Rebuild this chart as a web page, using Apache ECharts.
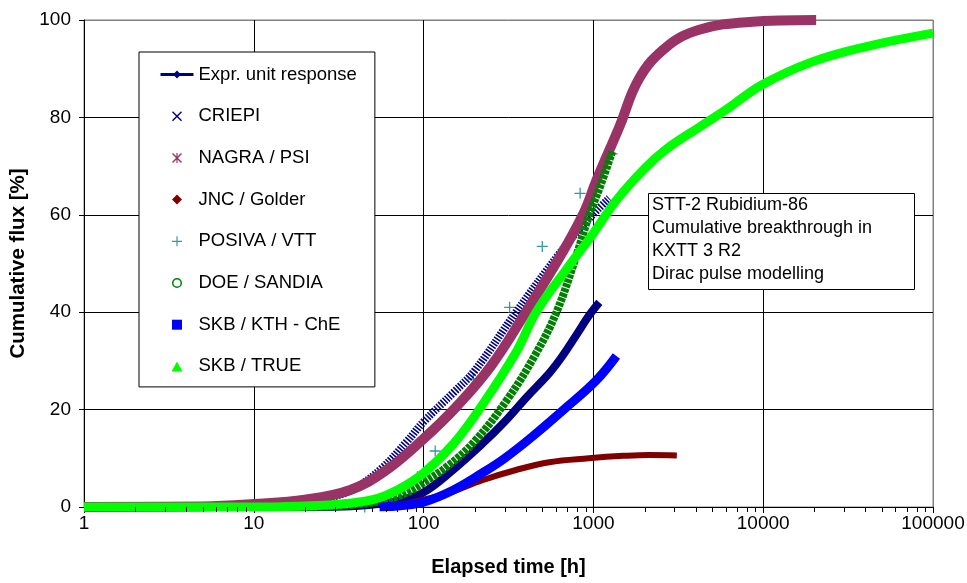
<!DOCTYPE html>
<html><head><meta charset="utf-8">
<script src="https://cdn.jsdelivr.net/npm/echarts@6/dist/echarts.min.js"></script>
<style>html,body{margin:0;padding:0;background:#fff}#c{width:967px;height:583px}</style>
</head><body><div id="c"></div>
<script>
const FONT = '"Liberation Sans", Arial, sans-serif';

// ---- data (time [h], cumulative flux [%]) ----
const xTickLabels = ['1', '10', '100', '1000', '10000', '100000'];
const yTicks = [0, 20, 40, 60, 80, 100];

const exprT = [1, 20, 40, 60, 80, 100, 142, 222, 300, 403, 550, 657, 800, 950, 1084];
const exprV = [0, 0, 0.2, 0.8, 1.8, 3, 7, 13, 17.5, 22.5, 27.5, 31, 35.5, 39.5, 42];

const criepiT = [1, 10, 20, 30, 40, 57, 80, 100, 150, 200, 350, 630, 900, 1240];
const criepiV = [0, 0.1, 0.9, 2.2, 4, 8, 13.5, 17.5, 23.5, 28, 40, 52, 58.5, 63.4];

const nagraT = [1, 5, 10, 20, 37, 60, 100, 160, 250, 400, 650, 880, 1040, 1420, 1860, 2700, 4200, 8300, 20500];
const nagraV = [0, 0.1, 0.6, 1.5, 3.5, 7.5, 14, 21, 29, 40, 52, 60.5, 67, 78, 88, 94.5, 98, 99.6, 100];

const jncT = [57, 80, 100, 142, 222, 350, 550, 940, 1500, 2140, 3100];
const jncV = [0, 0.8, 1.5, 2.9, 5.5, 7.6, 9.2, 10, 10.5, 10.7, 10.6];

const posivaT = [45, 60, 92, 117, 196, 321, 500, 835, 1290];
const posivaV = [0, 0.8, 6.2, 11.5, 26.3, 41, 53.5, 64.4, 72.5];

const doeT = [1, 20, 40, 60, 80, 100, 140, 200, 310, 450, 606, 800, 945, 1100, 1290];
const doeV = [0, 0, 0.5, 1.5, 3, 5, 8.5, 13.5, 22, 31, 40, 52, 60, 66, 73];

const kthT = [55, 75, 100, 150, 222, 300, 435, 695, 1040, 1366];
const kthV = [0, 0.3, 1, 3.5, 7, 10, 14.4, 20.5, 26, 31];

const trueT = [1, 10, 20, 30, 50, 70, 100, 150, 222, 353, 460, 700, 990, 1366, 2000, 2690, 4200, 6000, 9860, 19400, 40000, 100000];
const trueV = [0, 0, 0.2, 0.5, 1.5, 3.5, 7, 13, 21, 32, 40, 49, 56, 63, 69.5, 73.5, 78, 81.5, 86.7, 91.4, 94.5, 97.3];

const minorTickValues = [];
for (let d = 1; d < 100000; d *= 10) for (let k = 2; k <= 9; k++) minorTickValues.push([k * d, 0]);

const zip = (t, v) => t.map((x, i) => [x, v[i]]);

const xPath = 'path://M0,1.2 L1.2,0 L6,4.8 L10.8,0 L12,1.2 L7.2,6 L12,10.8 L10.8,12 L6,7.2 L1.2,12 L0,10.8 L4.8,6 Z';
const starPath = 'path://M0,1.2 L1.2,0 L6,4.8 L10.8,0 L12,1.2 L7.2,6 L12,10.8 L10.8,12 L6,7.2 L1.2,12 L0,10.8 L4.8,6 Z M5.3,0 L6.7,0 L6.7,12 L5.3,12 Z';
const plusPath = 'path://M0,5.3 L12,5.3 L12,6.7 L0,6.7 Z M5.3,0 L6.7,0 L6.7,12 L5.3,12 Z';
const diamondPath = 'path://M6,0 L12,6 L6,12 L0,6 Z';
const squarePath = 'path://M0,0 L12,0 L12,12 L0,12 Z';
const trianglePath = 'path://M6,0 L12,11 L0,11 Z';
const ringPath = 'path://M6,0 A6,6 0 1 1 5.99,0 Z M6,1.8 A4.2,4.2 0 1 0 6.01,1.8 Z';

const lineSeries = (name, data, color, width, extra) => Object.assign({
  name, type: 'line', data, symbol: 'none', showSymbol: false,
  smooth: 0.4,
  itemStyle: { color },
  lineStyle: { color, width, cap: 'butt', join: 'round' },
  emphasis: { disabled: true }, animation: false, silent: true
}, extra || {});

const chart = echarts.init(document.getElementById('c'), null, { renderer: 'canvas' });
chart.setOption({
  backgroundColor: '#fff',
  animation: false,
  textStyle: { fontFamily: FONT },
  grid: { left: 84, right: 34, top: 20, bottom: 76, show: true, borderColor: '#808080', borderWidth: 1, outerBoundsMode: 'none', containLabel: false },
  xAxis: {
    type: 'log', logBase: 10, min: 1, max: 100000,
    name: 'Elapsed time [h]', nameLocation: 'middle', nameGap: 50,
    nameTextStyle: { fontFamily: FONT, fontSize: 20, fontWeight: 'bold', color: '#000' },
    axisLine: { show: true, lineStyle: { color: '#000', width: 1 } },
    axisTick: { show: true, inside: false, length: 6, lineStyle: { color: '#000' } },
    axisLabel: { fontFamily: FONT, fontSize: 19, color: '#000', margin: 7,
      formatter: v => xTickLabels[Math.round(Math.log10(v))] },
    splitLine: { show: true, lineStyle: { color: ['#000', '#000', '#000', '#000', '#000', '#808080'], width: 1 } },
    minorTick: { show: false }
  },
  yAxis: {
    type: 'value', min: 0, max: 100, interval: 20,
    name: 'Cumulative flux [%]', nameLocation: 'middle', nameGap: 50,
    nameTextStyle: { fontFamily: FONT, fontSize: 20.5, fontWeight: 'bold', color: '#000' },
    axisLine: { show: true, lineStyle: { color: '#000', width: 1 } },
    axisTick: { show: true, inside: false, length: 5, lineStyle: { color: '#000' } },
    axisLabel: { fontFamily: FONT, fontSize: 19, color: '#000', margin: 13,
      formatter: v => String(yTicks[yTicks.indexOf(v)] ?? v) },
    splitLine: { show: true, lineStyle: { color: ['#000', '#000', '#000', '#000', '#000', '#808080'], width: 1 } }
  },
  legend: {
    orient: 'vertical', left: 139, top: 52,
    backgroundColor: '#fff', borderColor: '#000', borderWidth: 1,
    padding: [13, 18, 11, 20],
    itemWidth: 33, itemHeight: 10, itemGap: 22.7,
    symbolKeepAspect: true,
    selectedMode: false,
    textStyle: { fontFamily: FONT, fontSize: 18.5, color: '#000', lineHeight: 18 },
    data: [
      { name: 'Expr. unit response', lineStyle: { width: 3 } },
      { name: 'CRIEPI', icon: xPath },
      { name: 'NAGRA / PSI', icon: starPath },
      { name: 'JNC / Golder', icon: diamondPath },
      { name: 'POSIVA / VTT', icon: plusPath },
      { name: 'DOE / SANDIA', icon: ringPath },
      { name: 'SKB / KTH - ChE', icon: squarePath },
      { name: 'SKB / TRUE', icon: trianglePath }
    ]
  },
  graphic: [{
    type: 'group', left: 648, top: 193, z: 50,
    children: [
      { type: 'rect', z: 50, shape: { x: 0.5, y: 0.5, width: 266, height: 96 }, style: { fill: '#fff', stroke: '#000', lineWidth: 1 } },
      { type: 'text', z: 51, x: 4, y: 1, style: { text: 'STT-2 Rubidium-86\nCumulative breakthrough in\nKXTT 3 R2\nDirac pulse modelling', font: '18px ' + FONT, lineHeight: 23, fill: '#000' } }
    ]
  }],
  series: [
    lineSeries('Expr. unit response', zip(exprT, exprV), '#000080', 8, { symbol: 'diamond' }),
    lineSeries('CRIEPI', zip(criepiT, criepiV), '#000080', 8, { lineStyle: { color: '#000080', width: 8, type: [1.6, 1.4], cap: 'butt' } }),
    lineSeries('NAGRA / PSI', zip(nagraT, nagraV), '#993366', 10),
    lineSeries('JNC / Golder', zip(jncT, jncV), '#800000', 6),
    { name: 'POSIVA / VTT', type: 'scatter', data: zip(posivaT, posivaV), symbol: plusPath, symbolSize: 11,
      itemStyle: { color: '#008080' }, animation: false, silent: true },
    lineSeries('DOE / SANDIA', zip(doeT, doeV), '#008000', 8, { lineStyle: { color: '#008000', width: 8, type: [4, 1], cap: 'butt' } }),
    lineSeries('SKB / KTH - ChE', zip(kthT, kthV), '#0000FF', 9),
    lineSeries('SKB / TRUE', zip(trueT, trueV), '#00FF00', 9),
    { name: 'minorTicks', type: 'custom', data: minorTickValues, silent: true, animation: false, clip: false, z: 10,
      renderItem: (params, api) => {
        const p = api.coord([api.value(0), 0]);
        const x = Math.round(p[0]) + 0.5;
        return { type: 'line', shape: { x1: x, y1: p[1], x2: x, y2: p[1] + 5 }, style: { stroke: '#000', lineWidth: 1 } };
      } }
  ]
});
</script></body></html>
